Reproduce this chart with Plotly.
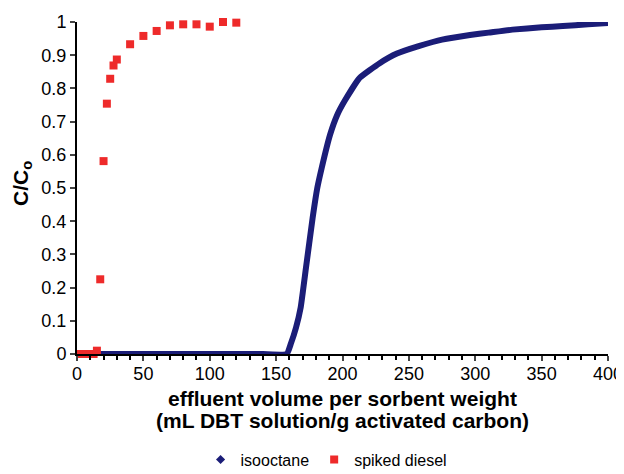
import plotly.graph_objects as go

# isooctane breakthrough curve
iso_x = [0, 20, 40, 60, 80, 100, 120, 140, 158, 161, 165, 168.5, 172.5, 177.5, 181, 184.3,
         190.6, 196, 202, 213, 228, 241, 258, 275, 296, 310, 328, 350, 366, 385, 400]
iso_y = [0, 0, 0, 0, 0, 0, 0, 0, 0, 0.03, 0.08, 0.14, 0.26, 0.41, 0.5, 0.56,
         0.66, 0.72, 0.765, 0.832, 0.876, 0.905, 0.928, 0.947, 0.961, 0.968, 0.977, 0.984, 0.988, 0.993, 0.997]

# spiked diesel points
die_x = [2.5, 5, 7.5, 10, 12.5, 15, 17.5, 20, 22.5, 25, 27.5, 30, 40, 50, 60, 70, 80, 90, 100, 110, 120]
die_y = [0, 0, 0, 0, 0, 0.01, 0.225, 0.581, 0.754, 0.829, 0.869, 0.887, 0.933, 0.958, 0.973, 0.99,
         0.993, 0.993, 0.986, 1.0, 0.998]

x_ticks = [0, 50, 100, 150, 200, 250, 300, 350, 400]
y_ticks = [0, 0.1, 0.2, 0.3, 0.4, 0.5, 0.6, 0.7, 0.8, 0.9, 1]
y_labels = ["0", "0.1", "0.2", "0.3", "0.4", "0.5", "0.6", "0.7", "0.8", "0.9", "1"]

x_title_1 = "effluent volume per sorbent weight"
x_title_2 = "(mL DBT solution/g activated carbon)"
y_title = "C/C<sub>o</sub>"

navy = "#1b1d78"
red = "#ee2a2a"

fig = go.Figure()
fig.add_trace(go.Scatter(x=iso_x, y=iso_y, mode="lines",
                         line=dict(color=navy, width=6, shape="spline", smoothing=0.4),
                         showlegend=False, cliponaxis=False))
fig.add_trace(go.Scatter(x=die_x, y=die_y, mode="markers",
                         marker=dict(symbol="square", color=red, size=8),
                         showlegend=False, cliponaxis=False))
fig.add_trace(go.Scatter(x=[None], y=[None], mode="markers", name="isooctane",
                         marker=dict(symbol="diamond", color=navy, size=7)))
fig.add_trace(go.Scatter(x=[None], y=[None], mode="markers", name="spiked diesel",
                         marker=dict(symbol="square", color=red, size=8)))

font = "Liberation Sans, Arial, sans-serif"
fig.update_layout(
    width=616, height=466,
    margin=dict(l=69, r=16, t=14, b=120, autoexpand=False),
    paper_bgcolor="white", plot_bgcolor="white",
    font=dict(family=font, color="black", size=18),
    xaxis=dict(range=[0, 400], tickvals=x_ticks, ticks="outside", ticklen=5, tickwidth=1.5,
               showline=True, linecolor="black", linewidth=2, showgrid=False, zeroline=False,
               minor=dict(dtick=10, ticks="outside", ticklen=4, tickwidth=1.5, tickcolor="black"),
               tickfont=dict(size=18), automargin=False, ticklabelstandoff=-3),
    yaxis=dict(range=[0, 1], tickvals=y_ticks, ticktext=y_labels, ticks="outside", ticklen=5, tickwidth=1.5,
               showline=True, linecolor="black", linewidth=2, showgrid=False, zeroline=False,
               tickfont=dict(size=18), automargin=False, ticklabelstandoff=0),
    legend=dict(orientation="h", x=0.47, xanchor="center", y=-0.318, yanchor="middle",
                font=dict(size=16), itemwidth=30, tracegroupgap=0),
    annotations=[
        dict(text="<b>" + x_title_1 + "</b>", xref="paper", yref="paper", x=0.5, y=-0.1355,
             xanchor="center", yanchor="middle", showarrow=False, font=dict(size=21)),
        dict(text="<b>" + x_title_2 + "</b>", xref="paper", yref="paper", x=0.5, y=-0.199,
             xanchor="center", yanchor="middle", showarrow=False, font=dict(size=21)),
        dict(text="<b>" + y_title + "</b>", xref="paper", yref="paper", x=-0.1036, y=0.515,
             xanchor="center", yanchor="middle", showarrow=False, textangle=-90, font=dict(size=21)),
    ],
)
fig.write_html("out.html")
